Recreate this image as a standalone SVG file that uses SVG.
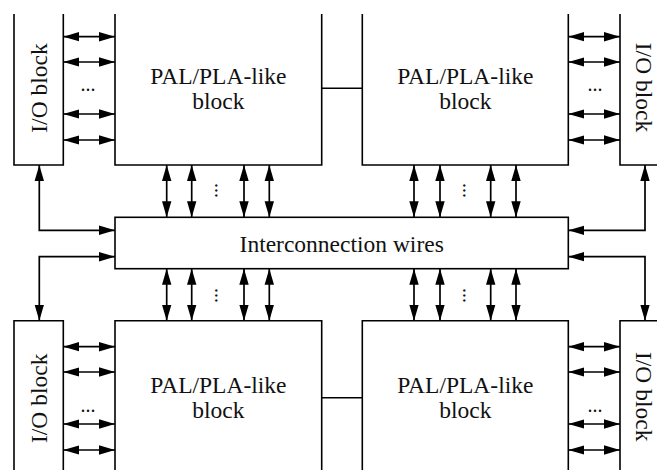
<svg xmlns="http://www.w3.org/2000/svg" width="657" height="470" viewBox="0 0 657 470">
<style>
.box{fill:none;stroke:#000;stroke-width:1.6}
.ln{fill:none;stroke:#000;stroke-width:1.7;marker-start:url(#ah);marker-end:url(#ah)}
.t{font-family:"Liberation Serif","Times New Roman",serif;font-size:23.5px;fill:#111;text-anchor:middle}
.d{font-family:"Liberation Serif","Times New Roman",serif;font-size:20px;fill:#111;text-anchor:middle}
</style>
<defs>
<marker id="ah" markerUnits="userSpaceOnUse" markerWidth="16" markerHeight="10" refX="16" refY="5" orient="auto-start-reverse">
<path d="M0,0.3 L16,5 L0,9.7 z" fill="#000"/>
</marker>
</defs>
<rect width="657" height="470" fill="#fff"/>
<g id="io-tl"><path class="box" d="M14,14 V165 H63.3 V14"/><text class="t" transform="translate(47.3,88) rotate(-90)">I/O block</text></g>
<g id="pal-tl"><path class="box" d="M115,14 V165 H321.7 V14"/><text class="t" x="218.4" y="83.5">PAL/PLA-like</text><text class="t" x="218.4" y="108.5">block</text></g>
<g id="pal-tr"><path class="box" d="M362.3,14 V165 H568.3 V14"/><text class="t" x="465.3" y="83.5">PAL/PLA-like</text><text class="t" x="465.3" y="108.5">block</text></g>
<g id="io-tr"><path class="box" d="M620,14 V165 H662"/><text class="t" transform="translate(635.5,87.5) rotate(90)">I/O block</text></g>
<g id="inter"><rect class="box" x="115" y="217.3" width="453.3" height="51.4"/><text class="t" x="341.7" y="251.7">Interconnection wires</text></g>
<g id="io-bl"><path class="box" d="M14,475 V320.7 H63.3 V475"/><text class="t" transform="translate(47.3,398.3) rotate(-90)">I/O block</text></g>
<g id="pal-bl"><path class="box" d="M115,475 V320.7 H321.7 V475"/><text class="t" x="218.4" y="393.3">PAL/PLA-like</text><text class="t" x="218.4" y="418.3">block</text></g>
<g id="pal-br"><path class="box" d="M362.3,475 V320.7 H568.3 V475"/><text class="t" x="465.3" y="393.3">PAL/PLA-like</text><text class="t" x="465.3" y="418.3">block</text></g>
<g id="io-br"><path class="box" d="M620,475 V320.7 H662"/><text class="t" transform="translate(635.5,396.7) rotate(90)">I/O block</text></g>
<g id="connectors">
<path class="box" d="M321.7,88.3 H362.3 M321.7,397.7 H362.3"/>
<line class="ln" x1="63.3" y1="36.7" x2="115" y2="36.7"/>
<line class="ln" x1="63.3" y1="62" x2="115" y2="62"/>
<line class="ln" x1="63.3" y1="114" x2="115" y2="114"/>
<line class="ln" x1="63.3" y1="140" x2="115" y2="140"/>
<line class="ln" x1="568.3" y1="36.7" x2="620" y2="36.7"/>
<line class="ln" x1="568.3" y1="62" x2="620" y2="62"/>
<line class="ln" x1="568.3" y1="114" x2="620" y2="114"/>
<line class="ln" x1="568.3" y1="140" x2="620" y2="140"/>
<line class="ln" x1="63.3" y1="346.7" x2="115" y2="346.7"/>
<line class="ln" x1="63.3" y1="372" x2="115" y2="372"/>
<line class="ln" x1="63.3" y1="424" x2="115" y2="424"/>
<line class="ln" x1="63.3" y1="450" x2="115" y2="450"/>
<line class="ln" x1="568.3" y1="346.7" x2="620" y2="346.7"/>
<line class="ln" x1="568.3" y1="372" x2="620" y2="372"/>
<line class="ln" x1="568.3" y1="424" x2="620" y2="424"/>
<line class="ln" x1="568.3" y1="450" x2="620" y2="450"/>
<line class="ln" x1="166.7" y1="165" x2="166.7" y2="217.3"/>
<line class="ln" x1="191.7" y1="165" x2="191.7" y2="217.3"/>
<line class="ln" x1="244" y1="165" x2="244" y2="217.3"/>
<line class="ln" x1="269.3" y1="165" x2="269.3" y2="217.3"/>
<line class="ln" x1="414" y1="165" x2="414" y2="217.3"/>
<line class="ln" x1="440" y1="165" x2="440" y2="217.3"/>
<line class="ln" x1="490.7" y1="165" x2="490.7" y2="217.3"/>
<line class="ln" x1="516" y1="165" x2="516" y2="217.3"/>
<line class="ln" x1="166.7" y1="268.7" x2="166.7" y2="320.7"/>
<line class="ln" x1="191.7" y1="268.7" x2="191.7" y2="320.7"/>
<line class="ln" x1="244" y1="268.7" x2="244" y2="320.7"/>
<line class="ln" x1="269.3" y1="268.7" x2="269.3" y2="320.7"/>
<line class="ln" x1="414" y1="268.7" x2="414" y2="320.7"/>
<line class="ln" x1="440" y1="268.7" x2="440" y2="320.7"/>
<line class="ln" x1="490.7" y1="268.7" x2="490.7" y2="320.7"/>
<line class="ln" x1="516" y1="268.7" x2="516" y2="320.7"/>
<path class="ln" d="M39.3,165 V230.3 H115"/>
<path class="ln" d="M115,256.7 H39.3 V320.7"/>
<path class="ln" d="M645,165 V230.3 H568.3"/>
<path class="ln" d="M568.3,256.7 H645 V320.7"/>
<text class="d" x="88" y="91">...</text>
<text class="d" x="595" y="91">...</text>
<text class="d" x="88" y="412">...</text>
<text class="d" x="595" y="412">...</text>
<text class="d" transform="translate(214.5,190.5) rotate(90)">...</text>
<text class="d" transform="translate(462.8,190.5) rotate(90)">...</text>
<text class="d" transform="translate(214.5,295.5) rotate(90)">...</text>
<text class="d" transform="translate(462.8,295.5) rotate(90)">...</text>
</g>
</svg>
